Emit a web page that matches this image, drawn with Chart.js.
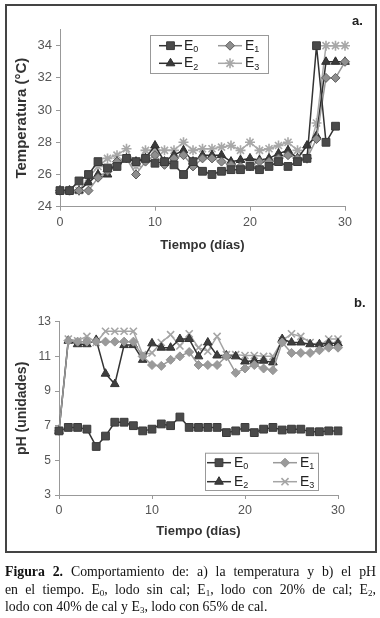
<!DOCTYPE html>
<html>
<head>
<meta charset="utf-8">
<script src="https://cdn.jsdelivr.net/npm/chart.js@4"></script>
<style>
  html, body { margin: 0; padding: 0; background: #fff; }
  body { width: 380px; height: 618px; position: relative; overflow: hidden; }
  canvas { position: absolute; left: 0; }
  #marco { position: absolute; left: 5px; top: 4px; width: 368px; height: 545px; border: 2px solid #444; pointer-events: none; }
  .letra { position: absolute; font: bold 13px "Liberation Sans", Arial, sans-serif; color: #222; }
  #pie { position: absolute; left: 5px; top: 563px; width: 371px; font: 13.8px "Liberation Serif", "Times New Roman", serif; color: #111; }
  #pie .l { height: 17.5px; line-height: 17.5px; }
  #pie .j { text-align: justify; text-align-last: justify; }
  #pie sub { font-size: 9px; line-height: 0; vertical-align: -2px; }
</style>
</head>
<body>
<canvas id="tempChart" width="380" height="270" style="top:0"></canvas>
<canvas id="phChart" width="380" height="282" style="top:270px"></canvas>
<div id="marco"></div>
<div class="letra" style="left:352px; top:13px">a.</div>
<div class="letra" style="left:354px; top:295px">b.</div>
<div id="pie">
  <div class="l j"><b>Figura 2.</b> Comportamiento de: a) la temperatura y b) el pH</div>
  <div class="l j">en el tiempo. E<sub>0</sub>, lodo sin cal; E<sub>1</sub>, lodo con 20% de cal; E<sub>2</sub>,</div>
  <div class="l">lodo con 40% de cal y E<sub>3</sub>, lodo con 65% de cal.</div>
</div>
<script>
// dias de muestreo
const dias = [0, 1, 2, 3, 4, 5, 6, 7, 8, 9, 10, 11, 12, 13, 14, 15, 16, 17, 18, 19, 20, 21, 22, 23, 24, 25, 26, 27, 28, 29, 30];
const series = ['E0', 'E1', 'E2', 'E3'];

// a) temperatura (°C)
const tempE0 = [25, 25, 25.6, 26.0, 26.8, 26.4, 26.5, 27.0, 26.8, 27.0, 26.7, 26.8, 26.6, 26.0, 26.8, 26.2, 26.0, 26.2, 26.3, 26.3, 26.5, 26.3, 26.5, 26.8, 26.5, 26.8, 27.0, 34, 28, 29];
const tempE1 = [25, 25, 25, 25.0, 25.8, 26.2, 26.8, 27.0, 26.0, 26.8, 27.2, 26.6, 27.0, 27.2, 26.5, 27.0, 27.0, 26.8, 26.6, 26.5, 26.5, 26.8, 26.8, 27.0, 27.2, 27.0, 27.0, 28.2, 32, 32, 33];
const tempE2 = [25, 25, 25, 25.5, 26.0, 26.0, 26.8, 27.0, 26.8, 27.0, 27.8, 26.8, 27.2, 27.5, 26.8, 27.2, 27.2, 27.2, 26.8, 26.9, 27.0, 26.9, 27.0, 27.3, 27.5, 27.0, 27.8, 28.4, 33, 33, 33];
const tempE3 = [25, 25, 25, 25.8, 26.5, 27.0, 27.2, 27.6, 26.5, 27.5, 27.5, 27.5, 27.5, 28.0, 27.5, 27.6, 27.6, 27.7, 27.8, 27.5, 28.0, 27.5, 27.6, 27.8, 28.0, 27.5, 27.0, 29.2, 34, 34, 34];

// b) pH (unidades)
const phE0 = [6.7, 6.9, 6.9, 6.8, 5.8, 6.4, 7.2, 7.2, 7.0, 6.7, 6.8, 7.1, 7.0, 7.5, 6.9, 6.9, 6.9, 6.9, 6.6, 6.7, 6.9, 6.6, 6.8, 6.9, 6.75, 6.8, 6.8, 6.65, 6.65, 6.7, 6.7];
const phE1 = [6.7, 11.9, 11.85, 11.85, 11.85, 11.85, 11.85, 11.85, 11.85, 11.0, 10.5, 10.45, 10.8, 11.0, 11.25, 10.5, 10.5, 10.5, 11.0, 10.05, 10.3, 10.5, 10.3, 10.2, 11.8, 11.2, 11.2, 11.2, 11.35, 11.5, 11.5];
const phE2 = [6.7, 11.9, 11.7, 11.7, 11.95, 10.0, 9.4, 11.65, 11.65, 10.8, 11.75, 11.5, 11.5, 12.0, 12.0, 11.0, 11.8, 11.05, 11.05, 11.0, 10.7, 10.75, 10.75, 10.65, 12.0, 11.8, 11.8, 11.7, 11.7, 11.75, 11.75];
const phE3 = [6.7, 12.0, 11.9, 12.15, 11.8, 12.45, 12.45, 12.45, 12.45, 11.1, 11.2, 11.8, 12.25, 11.6, 12.3, 11.5, 11.3, 12.15, 11.1, 11.1, 11.05, 11.05, 11.0, 11.0, 11.9, 12.3, 12.15, 11.8, 11.6, 12.0, 12.0];

const ticksX = [0, 10, 20, 30];

function puntos(valores) {
    return valores.map((v, i) => ({ x: dias[i], y: v }));
}

// leyenda con recuadro dentro del area de la grafica
const leyenda = {
    id: 'leyenda',
    afterDatasetsDraw(chart, args, opts) {
        const ctx = chart.ctx;
        const b = opts.box;
        ctx.save();
        ctx.fillStyle = '#fff';
        ctx.fillRect(b.x, b.y, b.w, b.h);
        ctx.strokeStyle = '#999';
        ctx.lineWidth = 1;
        ctx.strokeRect(b.x + 0.5, b.y + 0.5, b.w, b.h);
        chart.data.datasets.forEach((ds, i) => {
            const col = opts.cols[i % 2];
            const y = opts.rows[Math.floor(i / 2)];
            ctx.strokeStyle = ds.borderColor;
            ctx.lineWidth = ds.borderWidth;
            ctx.beginPath();
            ctx.moveTo(col.x1, y);
            ctx.lineTo(col.x2, y);
            ctx.stroke();
            ctx.fillStyle = ds.pointBackgroundColor;
            ctx.strokeStyle = ds.pointBorderColor;
            ctx.lineWidth = ds.pointBorderWidth;
            if (Chart.helpers && Chart.helpers.drawPoint) {
                Chart.helpers.drawPoint(ctx, { pointStyle: ds.pointStyle, radius: ds.pointRadius, borderWidth: ds.pointBorderWidth, rotation: 0 }, (col.x1 + col.x2) / 2, y);
            }
            ctx.fillStyle = '#222';
            ctx.textBaseline = 'middle';
            ctx.font = '14px "Liberation Sans", Arial, sans-serif';
            ctx.fillText(ds.label.charAt(0), col.tx, y);
            const w = ctx.measureText(ds.label.charAt(0)).width;
            ctx.font = '9px "Liberation Sans", Arial, sans-serif';
            ctx.fillText(ds.label.charAt(1), col.tx + w, y + 4);
        });
        ctx.restore();
    }
};

const fuenteTick = { family: '"Liberation Sans", Arial, sans-serif', size: 12.5 };
const fuenteTitulo = (size) => ({ family: '"Liberation Sans", Arial, sans-serif', size: size, weight: 'bold' });

function escalaX(alto) {
    return {
        type: 'linear', min: 0, max: 30,
        afterBuildTicks(s) { s.ticks = ticksX.map(v => ({ value: v })); },
        ticks: { font: fuenteTick, color: '#555', padding: 4, maxRotation: 0 },
        grid: { drawOnChartArea: false, tickLength: 4, color: '#999' },
        border: { color: '#999' },
        title: { display: true, text: 'Tiempo (días)', font: fuenteTitulo(13), color: '#333', padding: { top: 0, bottom: 0 } },
        afterFit(s) { s.height = alto; }
    };
}

function estilo(label, valores, tipo, r, relleno, borde, linea, grosorPunto) {
    return {
        label: label,
        data: puntos(valores),
        pointStyle: tipo,
        pointRadius: r,
        pointBackgroundColor: relleno,
        pointBorderColor: borde,
        pointBorderWidth: grosorPunto,
        borderColor: linea,
        borderWidth: 1.5,
        tension: 0,
        fill: false,
        clip: false
    };
}

new Chart(document.getElementById('tempChart'), {
    type: 'line',
    data: {
        datasets: [
            estilo(series[0], tempE0, 'rect', 5.5, '#4a4a4a', '#3a3a3a', '#333', 1),
            estilo(series[1], tempE1, 'rectRot', 4.5, '#8e8e8e', '#5e5e5e', '#999', 1),
            estilo(series[2], tempE2, 'triangle', 5, '#3a3a3a', '#2e2e2e', '#2e2e2e', 1),
            estilo(series[3], tempE3, 'star', 5, '#aaa', '#a8a8a8', '#a8a8a8', 1.6)
        ]
    },
    options: {
        responsive: false,
        animation: false,
        devicePixelRatio: 1,
        layout: { padding: { left: 13, right: 35, top: 29.6, bottom: 17.2 } },
        plugins: {
            legend: { display: false },
            tooltip: { enabled: false },
            leyenda: {
                box: { x: 150, y: 35, w: 118, h: 38 },
                rows: [45.7, 63.3],
                cols: [{ x1: 159, x2: 182, tx: 184 }, { x1: 218, x2: 242, tx: 245 }]
            }
        },
        scales: {
            x: escalaX(46.1),
            y: {
                min: 24, max: 35,
                ticks: { stepSize: 2, font: { family: fuenteTick.family, size: 13 }, color: '#555', padding: 4 },
                afterBuildTicks(s) { s.ticks = s.ticks.filter(t => t.value <= 34); },
                grid: { drawOnChartArea: false, tickLength: 4, color: '#999' },
                border: { color: '#999' },
                title: { display: true, text: 'Temperatura (°C)', font: fuenteTitulo(15), color: '#333', padding: { top: 0, bottom: 0 } },
                afterFit(s) { s.width = 47; }
            }
        }
    },
    plugins: [leyenda]
});

new Chart(document.getElementById('phChart'), {
    type: 'line',
    data: {
        datasets: [
            estilo(series[0], phE0, 'rect', 5.5, '#4a4a4a', '#3a3a3a', '#333', 1),
            estilo(series[1], phE1, 'rectRot', 4.5, '#9a9a9a', '#959595', '#9a9a9a', 1),
            estilo(series[2], phE2, 'triangle', 5, '#3e3e3e', '#333', '#333', 1),
            estilo(series[3], phE3, 'crossRot', 5, '#aaa', '#a5a5a5', '#a5a5a5', 1.6)
        ]
    },
    options: {
        responsive: false,
        animation: false,
        devicePixelRatio: 1,
        layout: { padding: { left: 13.6, right: 42, top: 51.7, bottom: 12.5 } },
        plugins: {
            legend: { display: false },
            tooltip: { enabled: false },
            leyenda: {
                box: { x: 205, y: 182.7, w: 113, h: 37.3 },
                rows: [192.7, 211.7],
                cols: [{ x1: 207, x2: 231, tx: 234 }, { x1: 273, x2: 297, tx: 300 }]
            }
        },
        scales: {
            x: escalaX(44.5),
            y: {
                min: 3, max: 13,
                ticks: {
                    stepSize: 1, font: { family: fuenteTick.family, size: 12 }, color: '#555', padding: 4,
                    callback: (v) => (v % 2 === 1 ? v : '')
                },
                grid: { drawOnChartArea: false, tickLength: 4, color: '#999' },
                border: { color: '#999' },
                title: { display: true, text: 'pH (unidades)', font: fuenteTitulo(14), color: '#333', padding: { top: 0, bottom: 0 } },
                afterFit(s) { s.width = 45.4; }
            }
        }
    },
    plugins: [leyenda]
});
</script>
</body>
</html>
